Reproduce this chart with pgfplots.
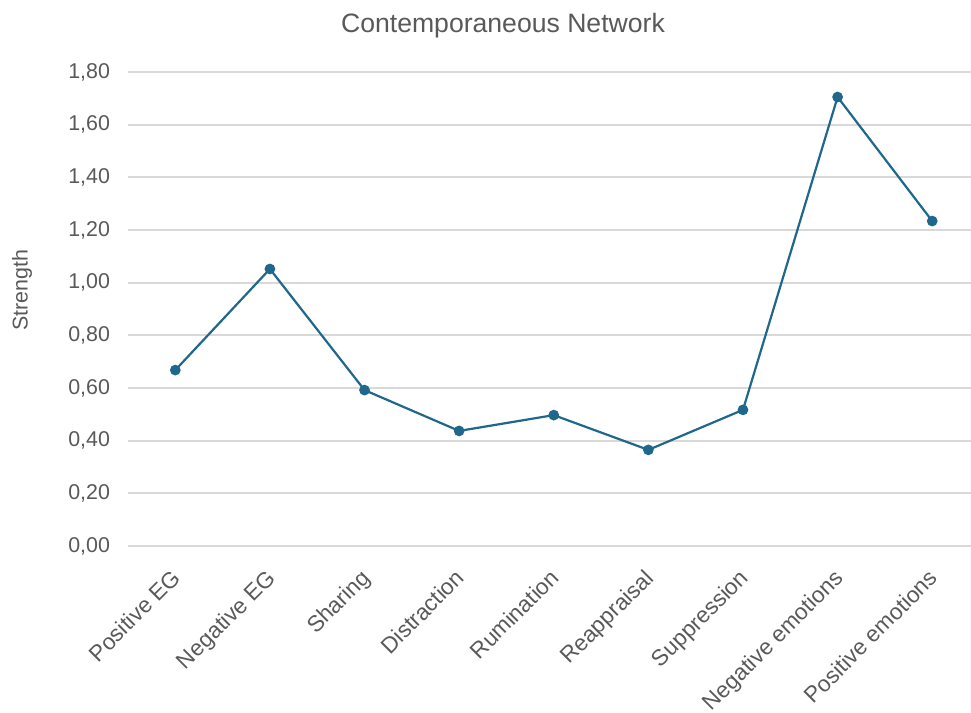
\documentclass[border=0pt]{standalone}
\usepackage{pgfplots}
\pgfplotsset{compat=1.18}
\usepackage{fontspec}
\setmainfont{Liberation Sans}
\definecolor{linecol}{RGB}{31,104,140}
\definecolor{gridcol}{RGB}{217,217,217}
\definecolor{txt}{RGB}{89,89,89}
\begin{document}
\begin{tikzpicture}[x=1pt,y=1pt]
\useasboundingbox (-64,-83.5) rectangle (421.5,273);
\begin{axis}[
  scale only axis, width=421.5pt, height=237pt,
  xmin=-0.5, xmax=8.41, ymin=0, ymax=1.8,
  clip=false,
  axis line style={draw=none},
  major tick length=0pt,
  ymajorgrids, grid style={gridcol, line width=1pt},
  ytick={0,0.2,0.4,0.6,0.8,1.0,1.2,1.4,1.6,1.8},
  yticklabels={{0,00},{0,20},{0,40},{0,60},{0,80},{1,00},{1,20},{1,40},{1,60},{1,80}},
  yticklabel style={font=\fontsize{10.7}{12}\selectfont, text=txt, xshift=-5.5pt},
  xtick={0,...,8},
  xticklabels={Positive EG, Negative EG, Sharing, Distraction, Rumination, Reappraisal, Suppression, Negative emotions, Positive emotions},
  xticklabel style={font=\fontsize{11.3}{13}\selectfont, text=txt, xshift=-2.5pt, yshift=-6pt, rotate=45, anchor=north east},
]
\addplot[linecol, line width=1.1pt, mark=*, mark size=2.1pt, mark options={fill=linecol, draw=linecol}]
  coordinates {
    (0,0.668) (1,1.052) (2,0.592) (3,0.437) (4,0.497)
    (5,0.365) (6,0.517) (7,1.705) (8,1.234)
  };
\end{axis}
\node[text=txt, font=\fontsize{13.3}{15}\selectfont] at (187.5,260) {Contemporaneous Network};
\node[text=txt, font=\fontsize{10.7}{12}\selectfont, rotate=90] at (-53,128) {Strength};
\end{tikzpicture}
\end{document}
